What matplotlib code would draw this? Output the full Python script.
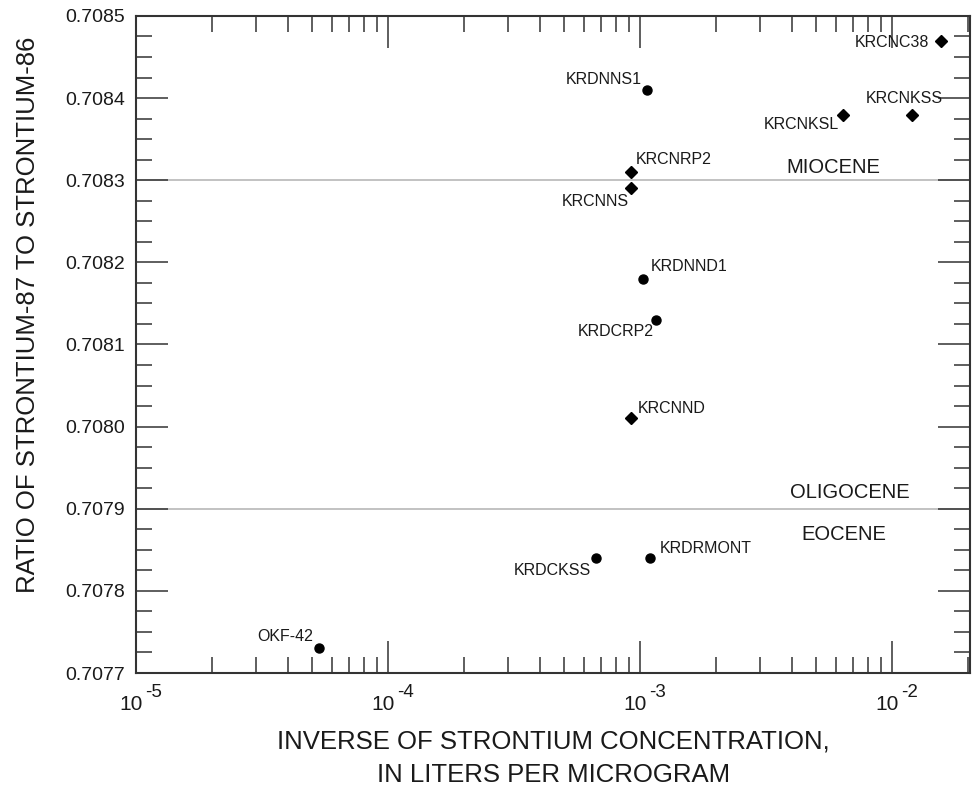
import matplotlib
matplotlib.use("Agg")
import matplotlib.pyplot as plt
import matplotlib.transforms as mtransforms
from matplotlib.ticker import FixedLocator, LogLocator, NullFormatter

# --- Données ---
circle_names = ["OKF-42", "KRDCKSS", "KRDRMONT", "KRDCRP2", "KRDNND1", "KRDNNS1"]
circle_x = [5.3e-5, 6.7e-4, 1.1e-3, 1.16e-3, 1.03e-3, 1.07e-3]
circle_y = [0.70773, 0.70784, 0.70784, 0.70813, 0.70818, 0.70841]

diamond_names = ["KRCNND", "KRCNNS", "KRCNRP2", "KRCNKSL", "KRCNKSS", "KRCNC38"]
diamond_x = [9.2e-4, 9.2e-4, 9.2e-4, 6.4e-3, 1.2e-2, 1.56e-2]
diamond_y = [0.70801, 0.70829, 0.70831, 0.70838, 0.70838, 0.70847]

boundaries = [0.7083, 0.7079]
y_ticks = [0.7077, 0.7078, 0.7079, 0.7080, 0.7081, 0.7082, 0.7083, 0.7084, 0.7085]
x_ticks = [1e-5, 1e-4, 1e-3, 1e-2]
x_exponents = ["-5", "-4", "-3", "-2"]

# décalages des étiquettes (pixels) et alignement
label_pos = {
    "OKF-42": (-5, 12, "right"),
    "KRDCKSS": (-5, -12, "right"),
    "KRDRMONT": (9, 10, "left"),
    "KRDCRP2": (-3, -12, "right"),
    "KRDNND1": (7, 12, "left"),
    "KRDNNS1": (-6, 10, "right"),
    "KRCNND": (7, 10, "left"),
    "KRCNNS": (-2, -13, "right"),
    "KRCNRP2": (5, 13, "left"),
    "KRCNKSL": (-4, -10, "right"),
    "KRCNKSS": (-8, 16, "center"),
    "KRCNC38": (-12, -2, "right"),
}

TEXT = "#1a1a1a"
plt.rcParams["font.family"] = ["Liberation Sans", "DejaVu Sans"]

fig = plt.figure(figsize=(9.75, 7.98), dpi=100)
ax = fig.add_axes([0.1395, 0.1566, 0.8555, 0.8234])

ax.set_xscale("log")
ax.set_xlim(1e-5, 2.04e-2)
ax.set_ylim(0.7077, 0.7085)

for yb in boundaries:
    ax.axhline(yb, color="#b8b8b8", linewidth=1.2, zorder=1)

ax.plot(circle_x, circle_y, "o", color="black", markersize=6.5, zorder=3)
ax.plot(diamond_x, diamond_y, "D", color="black", markersize=6, zorder=3)

for names, xs, ys in [(circle_names, circle_x, circle_y),
                      (diamond_names, diamond_x, diamond_y)]:
    for n, x, y in zip(names, xs, ys):
        dx, dy, ha = label_pos[n]
        ax.annotate(n, (x, y), xytext=(dx, dy), textcoords="offset pixels",
                    ha=ha, va="center", fontsize=11.5, color=TEXT)

# Noms des époques
trans = mtransforms.blended_transform_factory(ax.transAxes, ax.transData)
ax.text(0.836, 0.708316, "MIOCENE", transform=trans, ha="center", va="center",
        fontsize=14.5, color=TEXT)
ax.text(0.856, 0.7079195, "OLIGOCENE", transform=trans, ha="center", va="center",
        fontsize=14.5, color=TEXT)
ax.text(0.848, 0.7078683, "EOCENE", transform=trans, ha="center", va="center",
        fontsize=14.5, color=TEXT)

# Axes et graduations
ax.set_yticks(y_ticks)
ax.set_yticklabels([f"{v:.4f}" for v in y_ticks])
ax.yaxis.set_minor_locator(FixedLocator(
    [0.7077 + 0.000025 * i for i in range(33) if i % 4 != 0]))
ax.set_xticks(x_ticks)
ax.set_xticklabels(["10"] * len(x_ticks))
ax.xaxis.set_minor_locator(LogLocator(base=10, subs=range(2, 10), numticks=20))
ax.xaxis.set_minor_formatter(NullFormatter())

ax.tick_params(which="both", direction="in", top=True, right=True,
               colors="#333333", labelcolor=TEXT, labelsize=14, width=1.1)
ax.tick_params(which="major", length=23)
ax.tick_params(which="minor", length=11.5)
ax.tick_params(axis="x", which="major", pad=16, labelsize=15)
ax.tick_params(axis="y", which="major", pad=8)

shift = mtransforms.ScaledTranslation(-5 / 100, 0, fig.dpi_scale_trans)
for lab in ax.get_xticklabels():
    lab.set_transform(lab.get_transform() + shift)

# exposants des puissances de dix
xtrans = mtransforms.blended_transform_factory(ax.transData, ax.transAxes)
for xv, ex in zip(x_ticks, x_exponents):
    ax.annotate(ex, (xv, 0), xycoords=xtrans, xytext=(9, -24),
                textcoords="offset pixels", ha="left", va="baseline",
                fontsize=13.5, color=TEXT, annotation_clip=False)

for s in ax.spines.values():
    s.set_linewidth(1.5)
    s.set_color("#333333")

ax.set_xlabel("INVERSE OF STRONTIUM CONCENTRATION,\nIN LITERS PER MICROGRAM",
              fontsize=18.5, color=TEXT, labelpad=11, linespacing=1.5)
ax.set_ylabel("RATIO OF STRONTIUM-87 TO STRONTIUM-86", fontsize=18.5,
              color=TEXT)
ax.yaxis.set_label_coords(-0.115, 0.545)

fig.savefig("out.png", dpi=100)
